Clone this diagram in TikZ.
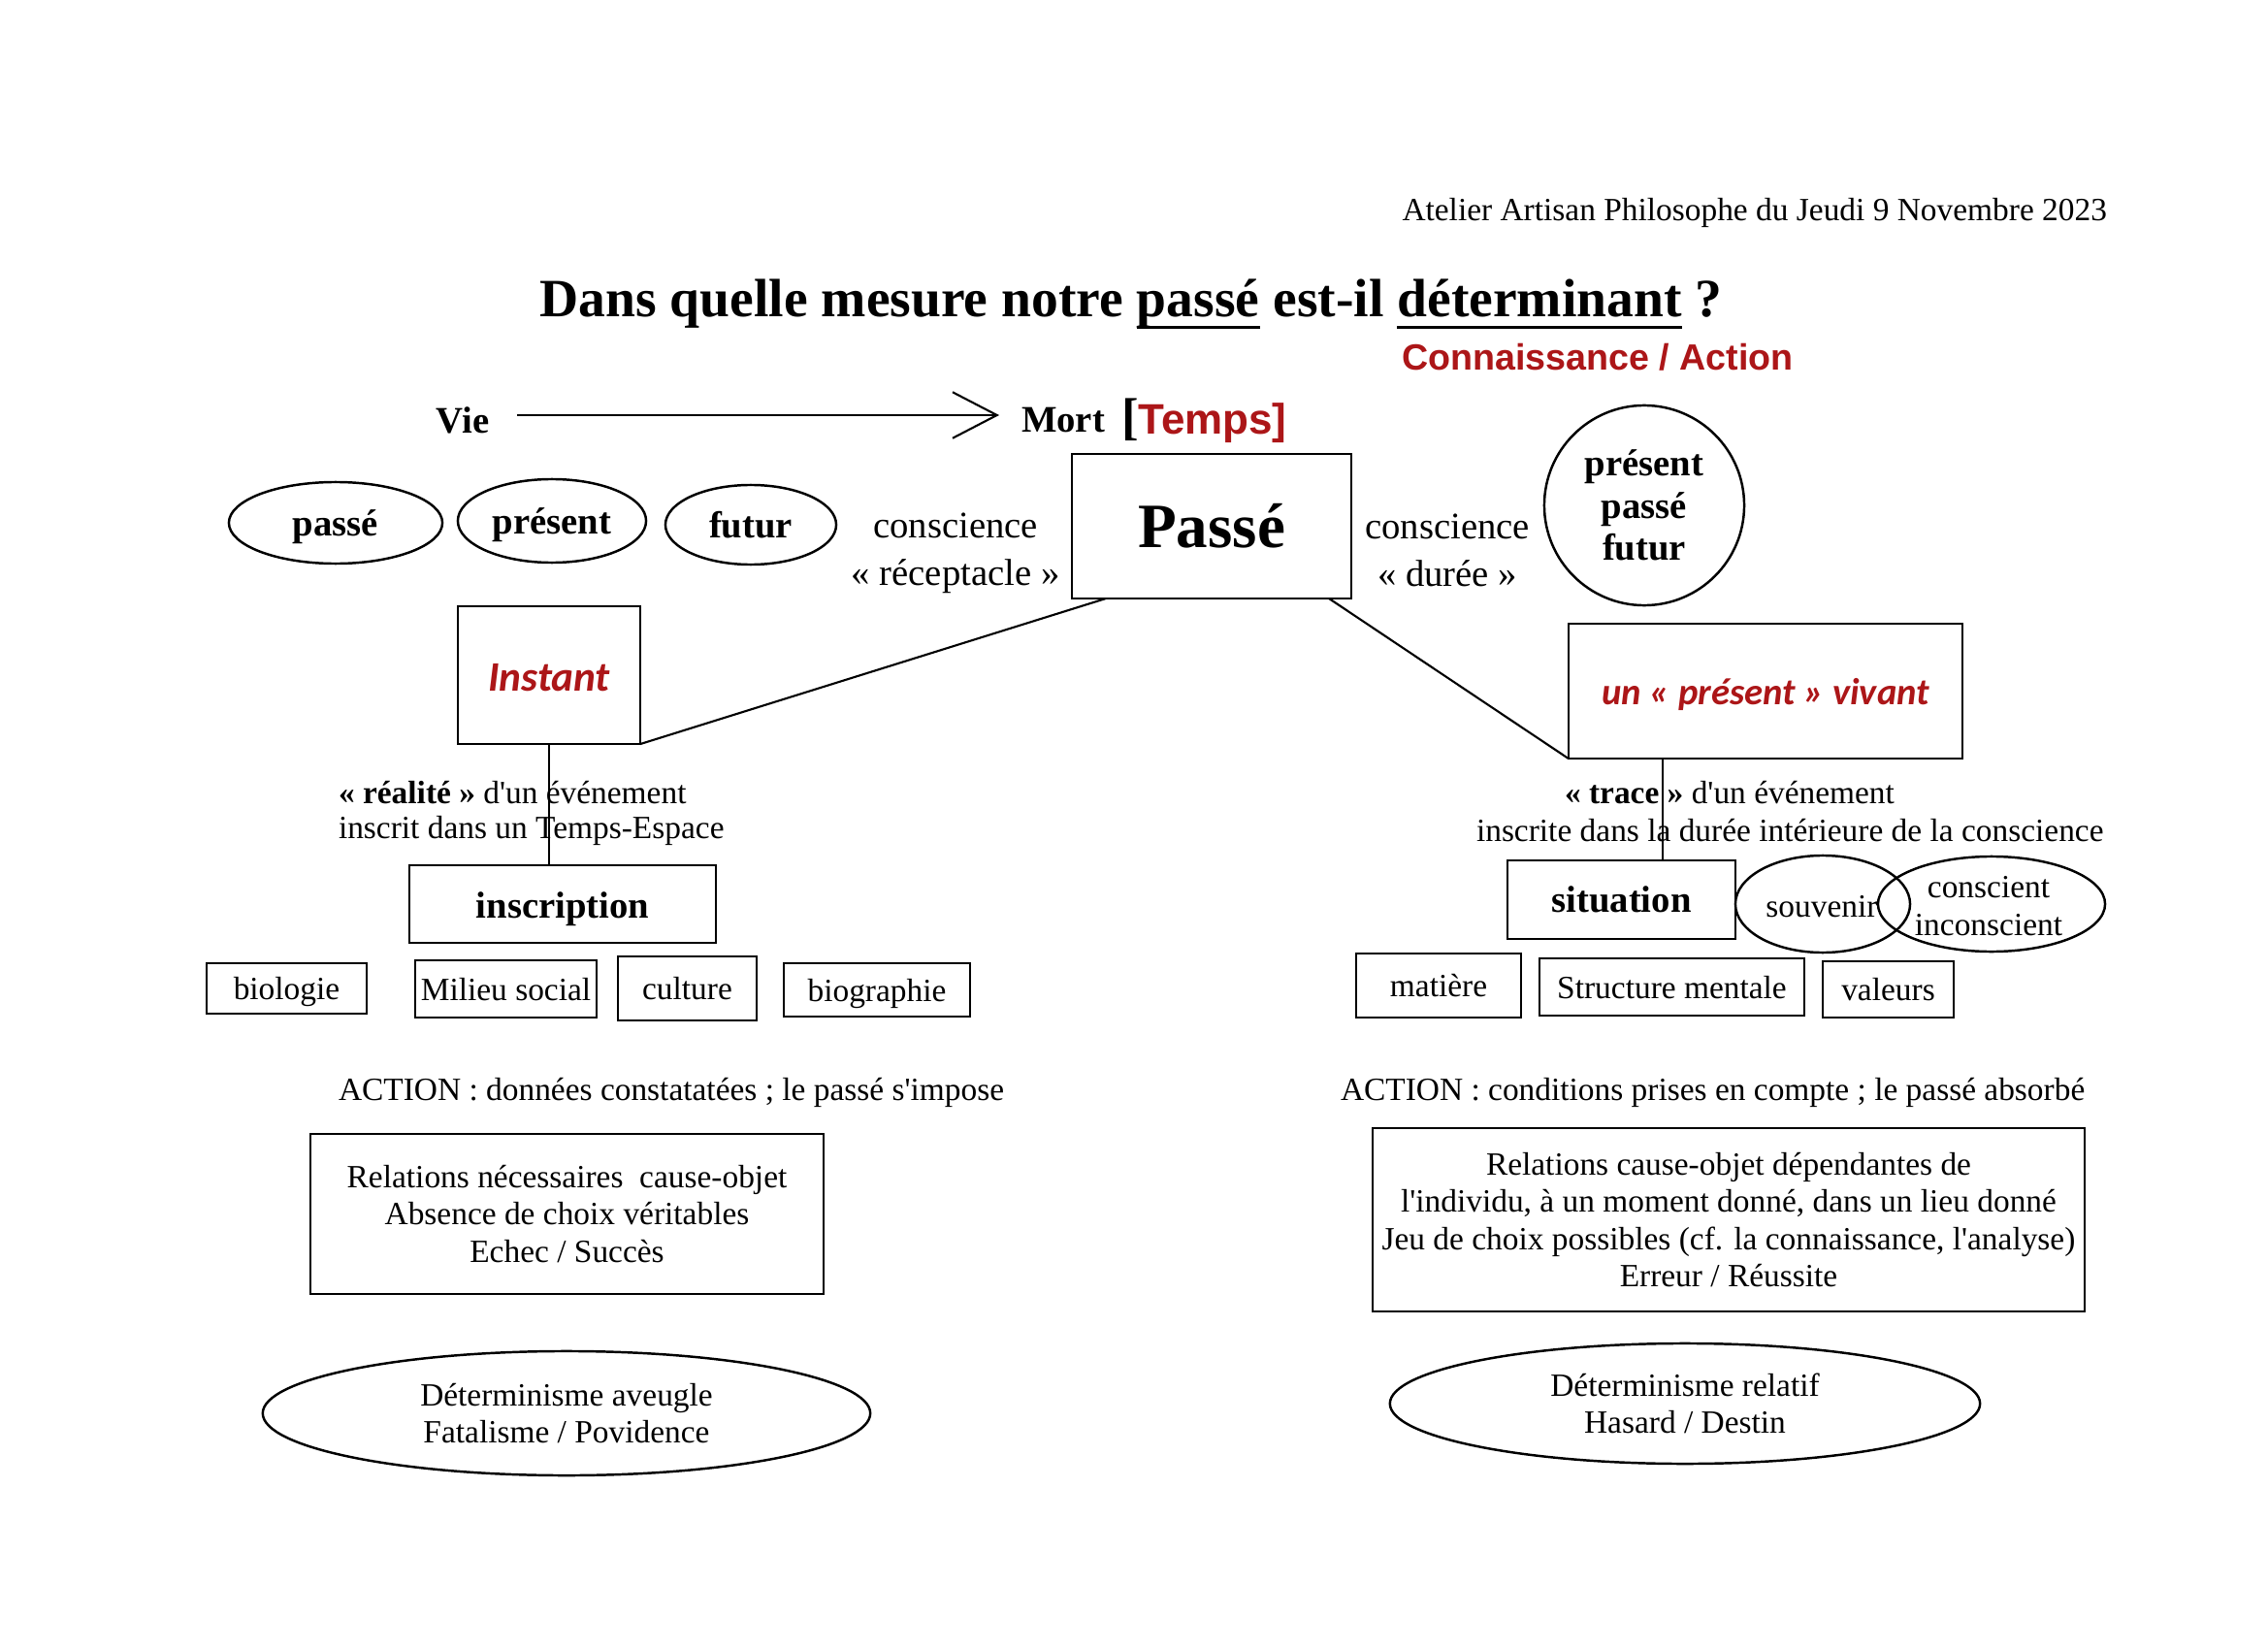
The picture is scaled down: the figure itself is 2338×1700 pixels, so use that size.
\documentclass[tikz,border=0pt]{standalone}
\usepackage{fontspec}
\setmainfont{Liberation Serif}[Ligatures=TeXOff]
\newfontfamily\sansfont{Liberation Sans}
\newfontfamily\carlfont{Carlito}
\usetikzlibrary{shapes.geometric,arrows.meta,calc}
\definecolor{dred}{RGB}{172,22,24}
\newcommand\myul[1]{\setbox0\hbox{#1}\rlap{\rule[-3.3pt]{\wd0}{0.8pt}}\box0\relax}
\begin{document}
\begin{tikzpicture}[x=0.01cm, y=-0.01cm,
  every node/.style={inner sep=0pt, outer sep=0pt},
  box/.style={draw, line width=0.7pt, align=center},
  ell/.style={ellipse, draw, line width=0.7pt, align=center},
  conn/.style={line width=0.6pt},
  reg/.style={font=\fontsize{9.5}{10.9}\selectfont},
  big/.style={font=\fontsize{11}{14}\selectfont},
  bigb/.style={font=\fontsize{11}{12.4}\selectfont\bfseries},
  low/.style={text height=#1, text depth=2.2pt},
  redit/.style={text=dred, font=\carlfont\bfseries\itshape\fontsize{#1}{14}\selectfont}
]
\path[use as bounding box, fill=white] (0,0) rectangle (2338,1700);

% header
\node[anchor=east, reg] (hdr) at (2172,219) {Atelier Artisan Philosophe du Jeudi 9 Novembre 2023};
\node[font=\fontsize{15.8}{18}\selectfont\bfseries, anchor=base] (title) at (1166,327) {Dans quelle mesure notre \myul{passé} est-il \myul{déterminant} ?};
\node[font=\sansfont\bfseries\fontsize{10.7}{12}\selectfont, text=dred] (ca) at (1647,368) {Connaissance / Action};

% Vie -> Mort
\node[bigb] (vie) at (477,433) {Vie};
\node[bigb] (mort) at (1096,433) {Mort};
\node[anchor=west] (temps) at (1156,434) {{\fontsize{15}{15}\selectfont\bfseries\color{black}[}{\sansfont\bfseries\fontsize{12.5}{14}\selectfont\color{dred}Temps]}};
\coordinate (a1) at (533,428);
\coordinate (a2) at (1030,428);
\draw[conn, -{Straight Barb[length=13pt,width=13.5pt]}] (a1) -- (a2);

% ellipses
\node[ell, bigb, low=9.8pt, minimum width=2.2cm, minimum height=0.84cm] (e1) at (346,539) {passé};
\node[ell, bigb, low=9.8pt, minimum width=1.94cm, minimum height=0.86cm] (e2) at (569,537) {présent};
\node[ell, bigb, low=9.8pt, minimum width=1.76cm, minimum height=0.82cm] (e3) at (774,541) {futur};

\node[big, align=center] (crec) at (985,570) {conscience\\« réceptacle »};
\node[box, font=\fontsize{18.5}{20}\selectfont\bfseries, minimum width=2.88cm, minimum height=1.49cm] (passe) at (1249,542.5) {Passé};
\node[big, align=center] (cdur) at (1492,567) {conscience\\« durée »};
\node[ell, bigb, minimum width=2.06cm, minimum height=2.06cm] (circ) at (1695,521) {présent\\passé\\futur};

% Instant / present vivant
\node[box, redit=12.3, text height=9.3pt, text depth=0pt, minimum width=1.88cm, minimum height=1.42cm] (instant) at (566,696) {Instant};
\node[box, redit=11, text height=10.6pt, text depth=2.5pt, minimum width=4.06cm, minimum height=1.39cm] (pv) at (1820,712.5) {un « présent » vivant};

\coordinate (pL) at ($(passe.south west)+(35,0)$);
\coordinate (pR) at ($(passe.south east)+(-23,0)$);
\draw[conn] (instant.south east) -- (pL);
\draw[conn] (pR) -- (pv.south west);

% left middle
\node[reg, anchor=west] (r1) at (349,817) {\textbf{« réalité »} d'un événement};
\node[reg, anchor=west] (r2) at (349,856) {inscrit dans un Temps-Espace};
\node[box, bigb, low=10.2pt, minimum width=3.16cm, minimum height=0.80cm] (insc) at (580,932) {inscription};
\draw[conn] (instant.south) -- (instant.south |- insc.north);

\node[box, reg, low=8.8pt, minimum width=1.65cm, minimum height=0.52cm] (bio) at (295.5,1019) {biologie};
\node[box, reg, low=8.8pt, minimum width=1.87cm, minimum height=0.59cm] (mil) at (521.5,1019.5) {Milieu social};
\node[box, reg, low=8.8pt, minimum width=1.43cm, minimum height=0.66cm] (cul) at (708.5,1019) {culture};
\node[box, reg, low=8.8pt, minimum width=1.92cm, minimum height=0.55cm] (biog) at (904,1020.5) {biographie};

% right middle
\node[reg, anchor=west] (t1) at (1613,817) {\textbf{« trace »} d'un événement};
\node[reg, anchor=west] (t2) at (1522,856) {inscrite dans la durée intérieure de la conscience};
\node[box, bigb, low=9.5pt, minimum width=2.35cm, minimum height=0.81cm] (sit) at (1671.5,927.5) {situation};
\coordinate (pvb) at ($(pv.south west)+(97,0)$);
\draw[conn] (pvb) -- (pvb |- sit.north);
\node[ell, minimum width=1.8cm, minimum height=1.0cm] (souv) at (1879,932) {};
\node[ell, minimum width=2.34cm, minimum height=0.98cm] (cons) at (2053,932) {};
\node[reg] (souvt) at (1878,935) {souvenir};
\node[reg, align=center] (const) at (2050,934) {conscient\\inconscient};

\node[box, reg, low=8.8pt, minimum width=1.70cm, minimum height=0.66cm] (mat) at (1483,1016) {matière};
\node[box, reg, low=8.8pt, minimum width=2.73cm, minimum height=0.59cm] (struc) at (1723.5,1017.5) {Structure mentale};
\node[box, reg, low=8.8pt, minimum width=1.35cm, minimum height=0.58cm] (val) at (1946.5,1020) {valeurs};

% ACTION
\node[reg, anchor=west] (actL) at (349,1126) {ACTION : données constatatées ; le passé s'impose};
\node[reg, anchor=west] (actR) at (1382,1126) {ACTION : conditions prises en compte ; le passé absorbé};

\node[box, reg, minimum width=5.29cm, minimum height=1.65cm] (lbox) at (584.5,1251.5) {Relations nécessaires\ \ cause-objet\\Absence de choix véritables\\Echec / Succès};
\node[box, reg, minimum width=7.34cm, minimum height=1.89cm] (rbox) at (1782,1257.5) {Relations cause-objet dépendantes de\\l'individu, à un moment donné, dans un lieu donné\\Jeu de choix possibles (cf. la connaissance, l'analyse)\\Erreur / Réussite};

\node[ell, reg, minimum width=6.26cm, minimum height=1.28cm] (lell) at (584,1457) {Déterminisme aveugle\\Fatalisme / Povidence};
\node[ell, reg, minimum width=6.08cm, minimum height=1.24cm] (rell) at (1737,1447) {Déterminisme relatif\\Hasard / Destin};
\end{tikzpicture}
\end{document}
